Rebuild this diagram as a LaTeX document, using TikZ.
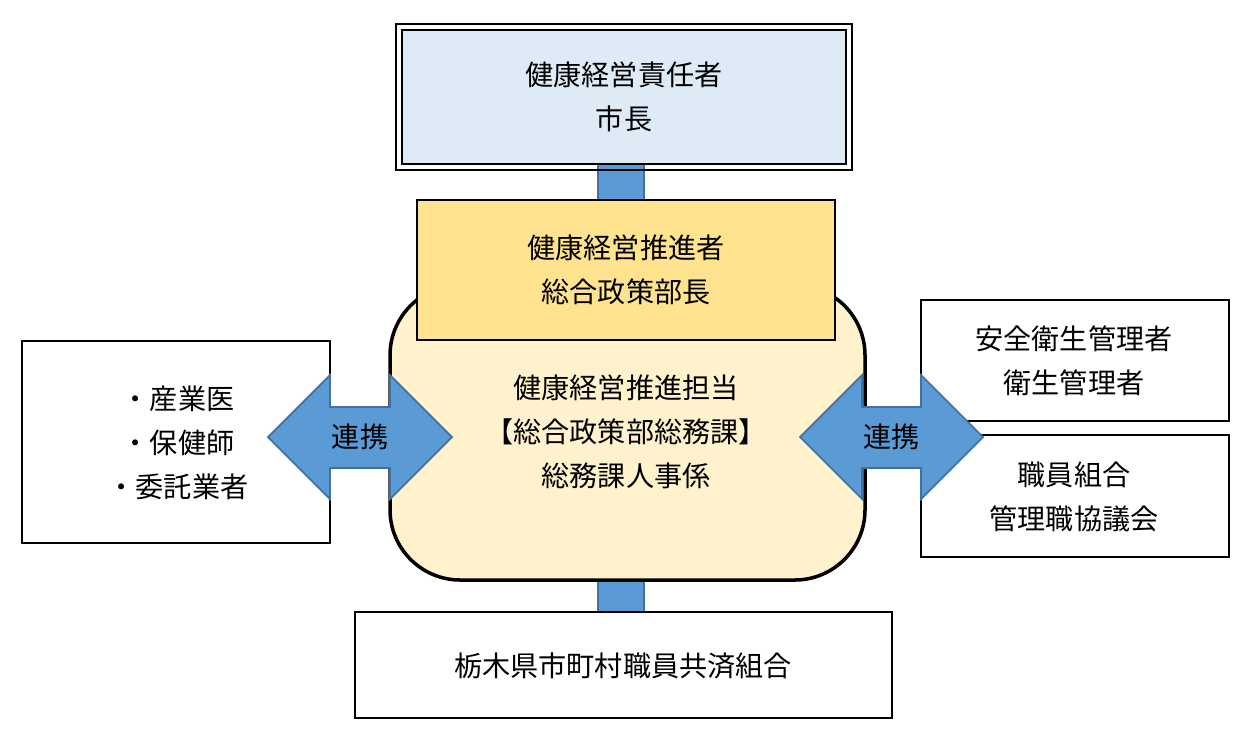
\documentclass[tikz,border=0pt]{standalone}
\usepackage{fontspec}
\setmainfont{Noto Sans CJK JP}
\usetikzlibrary{positioning}
\definecolor{topblue}{HTML}{DEEBF7}
\definecolor{barblue}{HTML}{5B9BD5}
\definecolor{bardark}{HTML}{41719C}
\definecolor{gold}{HTML}{FFE38F}
\definecolor{cream}{HTML}{FFF2CC}
\tikzset{
  box/.style={draw, line width=1.6pt, fill=white},
  lbl/.style={align=center, font=\fontsize{16}{25}\selectfont},
  bar/.style={fill=barblue, draw=bardark, line width=0.6pt},
}
\begin{document}
\begin{tikzpicture}[x=0.02cm, y=-0.02cm]
  \useasboundingbox (0,0) rectangle (1256,752);

  % connecting bars behind the boxes
  \draw[bar] (598,160) rectangle (644,205);
  \draw[bar] (598,575) rectangle (644,616);

  % top box
  \draw[line width=0.9pt] (396,24) rectangle (852,170);
  \draw[line width=0.9pt, fill=topblue] (402,30) rectangle (846,164);
  \node[lbl] (chief) at (624,97) {健康経営責任者\\市長};

  % centre box
  \draw[line width=2pt, fill=cream, rounded corners=40] (390,285) rectangle (865,580);
  \draw[box, fill=gold] (417,200) rectangle (835,340);
  \node[lbl] (promoter) at (626,270) {健康経営推進者\\総合政策部長};
  \node[lbl] (office) at (626,432) {健康経営推進担当\\【総合政策部総務課】\\総務課人事係};

  % bottom box
  \draw[box] (355,612) rectangle (892,718);
  \node[lbl] (mutual) at (623,666) {栃木県市町村職員共済組合};

  % left box
  \draw[box] (22,341) rectangle (330,543);
  \node[lbl] (doctor) at (178,443) {・産業医\\・保健師\\・委託業者};

  % right boxes
  \draw[box] (921,300) rectangle (1229,421);
  \node[lbl] (safety) at (1074,361) {安全衛生管理者\\衛生管理者};
  \draw[box] (921,435) rectangle (1229,557);
  \node[lbl] (union) at (1074,497) {職員組合\\管理職協議会};

  % double arrows
  \foreach \xa/\xb/\nm in {268/452/linkL, 800/983/linkR}{
    \draw[bar, line width=1pt]
      (\xa,437) -- (\xa+62,375) -- (\xa+62,407) -- (\xb-62,407) -- (\xb-62,375)
      -- (\xb,437) -- (\xb-62,499) -- (\xb-62,468) -- (\xa+62,468) -- (\xa+62,499) -- cycle;
    \node[lbl] (\nm) at ({(\xa+\xb)/2},437) {連携};
  }
\end{tikzpicture}
\end{document}
